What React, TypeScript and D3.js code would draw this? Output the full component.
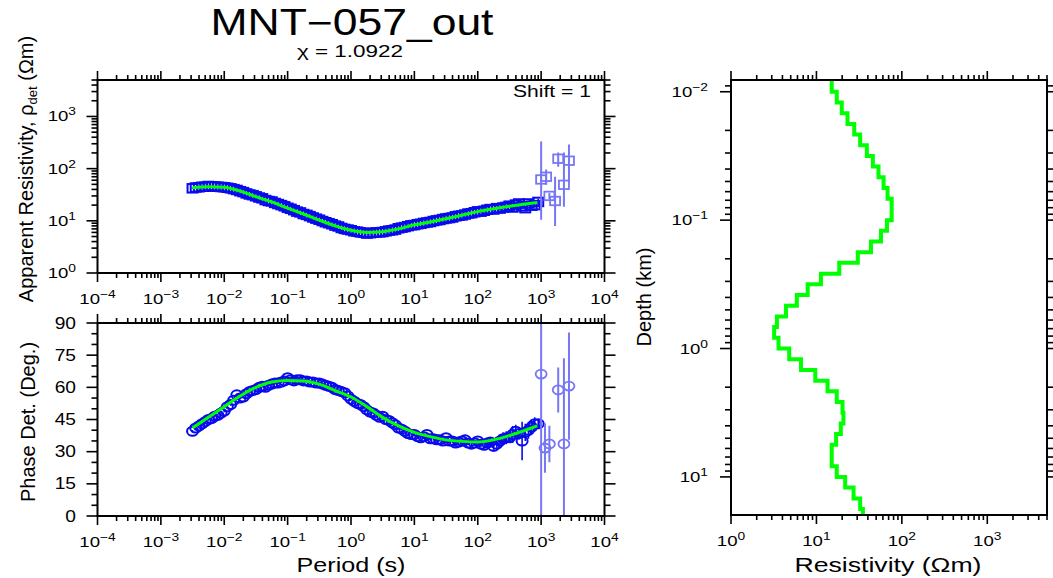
import React from 'react';
import * as d3 from 'd3';

const W = 1053;
const H = 578;
const FONT = "'Liberation Sans', Arial, Helvetica, sans-serif";
const SX = 1.2; // horizontal glyph stretch of the plot lettering

// ---- Observed sounding (period in s) ----
const periods = [
  0.00316, 0.00355, 0.00398, 0.00447, 0.00501, 0.00562, 0.00631, 0.00708, 0.00794, 0.00891,
  0.01, 0.0112, 0.0126, 0.0141, 0.0158, 0.0178, 0.02, 0.0224, 0.0251, 0.0282,
  0.0316, 0.0355, 0.0398, 0.0447, 0.0501, 0.0562, 0.0631, 0.0708, 0.0794, 0.0891,
  0.1, 0.112, 0.126, 0.141, 0.158, 0.178, 0.2, 0.224, 0.251, 0.282,
  0.316, 0.355, 0.398, 0.447, 0.501, 0.562, 0.631, 0.708, 0.794, 0.891,
  1, 1.12, 1.26, 1.41, 1.58, 1.78, 2, 2.24, 2.51, 2.82,
  3.16, 3.55, 3.98, 4.47, 5.01, 5.62, 6.31, 7.08, 7.94, 8.91,
  10, 11.2, 12.6, 14.1, 15.8, 17.8, 20, 22.4, 25.1, 28.2,
  31.6, 35.5, 39.8, 44.7, 50.1, 56.2, 63.1, 70.8, 79.4, 89.1,
  100, 112, 126, 141, 158, 178, 200, 224, 251, 282,
  316, 355, 398, 447, 501, 562, 631, 708, 794, 900];
const rhoObs = [
  42, 43.5, 44, 45, 45, 46.5, 46, 45.5, 45, 44.5,
  44, 43, 42, 40.5, 39, 37, 35.5, 33.5, 32, 31,
  29.5, 28, 27, 25, 24, 23.5, 22, 21, 20, 19,
  17.8, 17, 16, 15, 14.5, 13.5, 13, 12.3, 11.6, 11,
  10.5, 9.9, 9.4, 9.0, 8.6, 8.1, 7.8, 7.3, 7.0, 6.8,
  6.6, 6.3, 6.2, 6.0, 5.9, 5.7, 5.8, 5.9, 6.0, 6.0,
  6.1, 6.3, 6.5, 6.6, 6.8, 7.2, 7.4, 7.6, 7.9, 8.2,
  8.3, 8.6, 8.8, 9.1, 9.3, 9.5, 9.9, 10.2, 10.4, 10.8,
  11.1, 11.3, 11.6, 12.2, 12.5, 12.7, 13.2, 13.8, 14.0, 14.6,
  15.2, 15.0, 15.6, 16.3, 16.8, 16.5, 17.5, 17.2, 18.0, 18.5,
  19.5, 18.0, 20.5, 21.5, 19.0, 17.5, 21.5, 19.5, 20.0, 23];
// relative error of apparent resistivity
const rhoErr = [
  0.02, 0.02, 0.02, 0.02, 0.02, 0.02, 0.02, 0.02, 0.02, 0.02,
  0.02, 0.02, 0.02, 0.02, 0.02, 0.02, 0.02, 0.02, 0.02, 0.02,
  0.02, 0.02, 0.02, 0.02, 0.02, 0.02, 0.02, 0.02, 0.02, 0.02,
  0.02, 0.02, 0.02, 0.02, 0.02, 0.02, 0.02, 0.02, 0.02, 0.02,
  0.02, 0.02, 0.02, 0.02, 0.02, 0.02, 0.02, 0.02, 0.02, 0.02,
  0.02, 0.02, 0.02, 0.02, 0.02, 0.02, 0.02, 0.02, 0.02, 0.02,
  0.02, 0.02, 0.02, 0.02, 0.02, 0.02, 0.02, 0.02, 0.02, 0.02,
  0.02, 0.02, 0.02, 0.02, 0.02, 0.02, 0.02, 0.02, 0.02, 0.02,
  0.03, 0.03, 0.03, 0.03, 0.03, 0.03, 0.03, 0.03, 0.03, 0.03,
  0.04, 0.04, 0.04, 0.05, 0.05, 0.05, 0.05, 0.06, 0.06, 0.06,
  0.06, 0.07, 0.08, 0.09, 0.1, 0.1, 0.12, 0.1, 0.1, 0.15];
const phaseObs = [
  39.5, 41, 42, 43, 44, 45, 45.5, 46.5, 47, 48,
  49, 51, 52, 54, 56.5, 55, 55.5, 57, 58, 58.5,
  59, 60, 60.5, 60, 61, 61.5, 62, 62, 62.5, 63,
  64.5, 63.5, 63, 63.5, 63.5, 63, 63, 62.5, 62.5, 62,
  62, 61.5, 61, 60.5, 60, 59, 58.5, 58, 57.5, 56,
  54.5, 53.5, 52.5, 52, 51, 49.5, 48.5, 48, 47, 46,
  46.5, 45, 44.5, 43.5, 42.5, 41, 40.5, 39.5, 38.5, 38,
  38, 37, 36.5, 37, 38, 36, 36, 35.5, 35.5, 35,
  36.5, 35, 35, 34, 34.5, 35, 35.5, 34, 33.5, 34,
  35, 33.5, 33, 34, 34.5, 32.5, 33.5, 35, 36, 36.5,
  36.5, 38, 39.5, 38.5, 35, 39, 40, 41.5, 43, 43];
const phaseErr = [
  0.6, 0.6, 0.6, 0.6, 0.6, 0.6, 0.6, 0.6, 0.6, 0.6,
  0.6, 0.6, 0.6, 0.6, 0.6, 0.6, 0.6, 0.6, 0.6, 0.6,
  0.6, 0.6, 0.6, 0.6, 0.6, 0.6, 0.6, 0.6, 0.6, 0.6,
  0.6, 0.6, 0.6, 0.6, 0.6, 0.6, 0.6, 0.6, 0.6, 0.6,
  0.6, 0.6, 0.6, 0.6, 0.6, 0.6, 0.6, 0.6, 0.6, 0.6,
  0.6, 0.6, 0.6, 0.6, 0.6, 0.6, 0.6, 0.6, 0.6, 0.6,
  0.6, 0.6, 0.6, 0.6, 0.6, 0.6, 0.6, 0.6, 0.6, 0.6,
  0.8, 0.8, 0.8, 0.8, 0.8, 0.8, 0.8, 0.8, 0.8, 0.8,
  0.8, 0.8, 0.8, 1, 1, 1, 1, 1, 1, 1.2,
  1.2, 1.5, 1.5, 2, 2, 2.5, 2.5, 3, 3, 3,
  2.5, 4, 3, 3, 9, 4, 4, 3, 3, 2];

// ---- Long-period points with large uncertainty ----
const lpRhoPeriods = [1000, 1200, 1350, 1660, 1860, 2290, 2750];
const lpRho = [62, 70, 30, 24, 155, 49, 142];
const lpRhoLo = [10.5, 49, 26, 8, 109, 18.6, 54];
const lpRhoHi = [330, 96, 34, 70, 204, 204, 290];
const lpPhasePeriods = [1000, 1150, 1350, 1860, 2290, 2750];
const lpPhase = [66.2, 31.7, 33.6, 58.8, 33.6, 60.6];
const lpPhaseErr = [70, 11.5, 8.5, 10.5, 40, 25];

// ---- Model response ----
const respPeriods = [0.00316, 0.00562, 0.01, 0.0178, 0.0316, 0.0562, 0.1, 0.178, 0.316, 0.562,
  1, 1.78, 3.16, 5.62, 10, 17.8, 31.6, 56.2, 100, 178, 316, 562, 870];
const respRho = [43, 45, 44, 37, 29, 23, 17.5, 13.5, 10.3, 8.0,
  6.6, 6.0, 6.2, 7.0, 8.4, 9.5, 11.0, 12.8, 15.0, 17.0, 19.0, 21.0, 22.5];
const respPhase = [41, 46, 51, 56, 60, 62.5, 63.2, 63, 61.5, 58.5,
  55.5, 51, 46, 42, 39, 37, 35.5, 34.8, 34.5, 35.5, 37.5, 40, 42];

// ---- 1-D layered model: interface depths (km) and layer resistivities (ohm-m) ----
const interfaceDepths = [0.01, 0.0121, 0.0147, 0.0178, 0.0215, 0.0261, 0.0316, 0.0383, 0.0464, 0.0562,
  0.0681, 0.0825, 0.1, 0.121, 0.147, 0.178, 0.215, 0.261, 0.316, 0.383,
  0.464, 0.562, 0.681, 0.825, 1.0, 1.21, 1.47, 1.78, 2.15, 2.61,
  3.16, 3.83, 4.64, 5.62, 6.81, 8.25, 10.0, 12.1, 14.7, 17.8];
const layerRes = [15.1, 17.3, 19.8, 23.1, 27.7, 32.5, 38.9, 45.8, 53.3, 61.1,
  68, 76, 76, 67, 57, 43.5, 30.5, 18.5, 11.3, 7.9,
  5.9, 4.4, 3.45, 3.2, 3.6, 4.8, 6.6, 9.7, 13.5, 17.3,
  20.2, 20.7, 19.3, 17, 15.1, 15.1, 17.3, 21.7, 27.2, 32.5, 35];

// ---- Axis labels ----
const periodExps = [-4, -3, -2, -1, 0, 1, 2, 3, 4];
const rhoExps = [0, 1, 2, 3];
const phaseLabels = [0, 15, 30, 45, 60, 75, 90];
const depthExps = [-2, -1, 0, 1];
const resExps = [0, 1, 2, 3];

// ---- Layout ----
const L = { x0: 97.5, x1: 604.5 };
const TOP = { y0: 80, y1: 273 };
const BOT = { y0: 323, y1: 516 };
const R = { x0: 731, x1: 1047, y0: 80, y1: 515 };

const xP = d3.scaleLog().domain([1e-4, 1e4]).range([L.x0, L.x1]);
const yRho = d3.scaleLog().domain([1, 5000]).range([TOP.y1, TOP.y0]);
const yPh = d3.scaleLinear().domain([0, 90]).range([BOT.y1, BOT.y0]);
const xRes = d3.scaleLog().domain([1, 5000]).range([R.x0, R.x1]);
const yDep = d3.scaleLog().domain([0.0081, 19.8]).range([R.y0, R.y1]);

function logTicks(lo: number, hi: number) {
  const out: { v: number; major: boolean }[] = [];
  for (let k = Math.floor(Math.log10(lo)); k <= Math.ceil(Math.log10(hi)); k++) {
    for (let m = 1; m <= 9; m++) {
      const v = m * Math.pow(10, k);
      if (v >= lo * 0.9999 && v <= hi * 1.0001) out.push({ v, major: m === 1 });
    }
  }
  return out;
}

const BLUE = '#0a0aee';
const LIGHT = '#7777f6';
const GREEN = '#00ff00';

type Tk = { p: number; major: boolean };

function Frame({ x0, x1, y0, y1, xt, yt }: { x0: number; x1: number; y0: number; y1: number; xt: Tk[]; yt: Tk[] }) {
  const vMaj = 9, vMin = 5, hMaj = 11, hMin = 6;
  return (
    <g stroke="#000" fill="none">
      {xt.map((t, i) => (
        <g key={'x' + i} strokeWidth={1.6}>
          <line x1={t.p} x2={t.p} y1={y1} y2={y1 + (t.major ? vMaj : vMin)} />
          <line x1={t.p} x2={t.p} y1={y0} y2={y0 - (t.major ? vMaj : vMin)} />
        </g>
      ))}
      {yt.map((t, i) => (
        <g key={'y' + i} strokeWidth={1.6}>
          <line y1={t.p} y2={t.p} x1={x0} x2={x0 - (t.major ? hMaj : hMin)} />
          <line y1={t.p} y2={t.p} x1={x1} x2={x1 + (t.major ? hMaj : hMin)} />
        </g>
      ))}
      <rect x={x0} y={y0} width={x1 - x0} height={y1 - y0} strokeWidth={2} />
    </g>
  );
}

function Pow({ x, y, exp, anchor }: { x: number; y: number; exp: number; anchor: string }) {
  const e = exp < 0 ? `\u2212${-exp}` : `${exp}`;
  return (
    <text transform={`translate(${x},${y}) scale(${SX},1)`} textAnchor={anchor} fontSize={15.5} fontFamily={FONT} fill="#000">
      10<tspan dy={-6} fontSize={11.5}>{e}</tspan>
    </text>
  );
}

export default function App() {
  const xtP = logTicks(1e-4, 1e4).map((t) => ({ p: xP(t.v), major: t.major }));
  const ytRho = logTicks(1, 5000).map((t) => ({ p: yRho(t.v), major: t.major }));
  const ytPh = d3.range(0, 91, 5).map((v) => ({ p: yPh(v), major: v % 15 === 0 }));
  const xtRes = logTicks(1, 5000).map((t) => ({ p: xRes(t.v), major: t.major }));
  const ytDep = logTicks(0.0081, 19.8).map((t) => ({ p: yDep(t.v), major: t.major }));

  const rhoLine = d3.line<number>().x((_, i) => xP(respPeriods[i])).y((v) => yRho(v)).curve(d3.curveMonotoneX)(respRho) || '';
  const phLine = d3.line<number>().x((_, i) => xP(respPeriods[i])).y((v) => yPh(v)).curve(d3.curveMonotoneX)(respPhase) || '';

  let model = `M${xRes(layerRes[0])},${R.y0}`;
  interfaceDepths.forEach((z, i) => {
    model += `V${yDep(z)}H${xRes(layerRes[i + 1])}`;
  });
  model += `V${R.y1}`;

  return (
    <svg width={W} height={H} style={{ position: 'absolute', left: 0, top: 0, background: '#fff' }} fontFamily={FONT}>
      <defs>
        <clipPath id="cRho"><rect x={L.x0} y={TOP.y0} width={L.x1 - L.x0} height={TOP.y1 - TOP.y0} /></clipPath>
        <clipPath id="cPh"><rect x={L.x0} y={BOT.y0} width={L.x1 - L.x0} height={BOT.y1 - BOT.y0} /></clipPath>
        <clipPath id="cMod"><rect x={R.x0} y={R.y0} width={R.x1 - R.x0} height={R.y1 - R.y0} /></clipPath>
      </defs>
      <rect x={0} y={0} width={W} height={H} fill="#fff" />

      {/* Title */}
      <text x={352} y={35} textAnchor="middle" fontSize={36} textLength={283} lengthAdjust="spacingAndGlyphs">MNT{'\u2212'}057_out</text>
      <text x={350} y={57} textAnchor="middle" fontSize={16} textLength={106} lengthAdjust="spacingAndGlyphs">{'\u03c7'} = 1.0922</text>

      {/* Apparent resistivity panel */}
      <g clipPath="url(#cRho)">
        {periods.map((p, i) => (
          <line key={'re' + i} x1={xP(p)} x2={xP(p)} y1={yRho(rhoObs[i] * (1 - rhoErr[i]))} y2={yRho(rhoObs[i] * (1 + rhoErr[i]))} stroke={BLUE} strokeWidth={1.6} />
        ))}
        {periods.map((p, i) => (
          <rect key={'rs' + i} x={xP(p) - 5} y={yRho(rhoObs[i]) - 4.25} width={10} height={8.5} fill="none" stroke={BLUE} strokeWidth={2} />
        ))}
        {lpRhoPeriods.map((p, i) => (
          <line key={'le' + i} x1={xP(p)} x2={xP(p)} y1={yRho(lpRhoLo[i])} y2={yRho(lpRhoHi[i])} stroke={LIGHT} strokeWidth={2} />
        ))}
        {lpRhoPeriods.map((p, i) => (
          <rect key={'ls' + i} x={xP(p) - 5} y={yRho(lpRho[i]) - 4.25} width={10} height={8.5} fill="none" stroke={LIGHT} strokeWidth={1.8} />
        ))}
        <path d={rhoLine} fill="none" stroke={GREEN} strokeWidth={3} />
      </g>
      <Frame x0={L.x0} x1={L.x1} y0={TOP.y0} y1={TOP.y1} xt={xtP} yt={ytRho} />
      <text x={591} y={97} textAnchor="end" fontSize={16} textLength={78} lengthAdjust="spacingAndGlyphs">Shift = 1</text>
      {periodExps.map((e) => <Pow key={'tx' + e} x={xP(Math.pow(10, e))} y={TOP.y1 + 31} exp={e} anchor="middle" />)}
      {rhoExps.map((e) => <Pow key={'ty' + e} x={76} y={yRho(Math.pow(10, e)) + 5} exp={e} anchor="end" />)}
      <text transform={`translate(33,169) rotate(-90)`} textAnchor="middle" fontSize={20}>
        Apparent Resistivity, {'\u03c1'}<tspan dy={4} fontSize={13}>det</tspan><tspan dy={-4}> ({'\u03a9'}m)</tspan>
      </text>

      {/* Phase panel */}
      <g clipPath="url(#cPh)">
        {periods.map((p, i) => (
          <line key={'pe' + i} x1={xP(p)} x2={xP(p)} y1={yPh(phaseObs[i] - phaseErr[i])} y2={yPh(phaseObs[i] + phaseErr[i])} stroke={BLUE} strokeWidth={1.6} />
        ))}
        {periods.map((p, i) => (
          <ellipse key={'pc' + i} cx={xP(p)} cy={yPh(phaseObs[i])} rx={5.5} ry={4.5} fill="none" stroke={BLUE} strokeWidth={2} />
        ))}
        {lpPhasePeriods.map((p, i) => (
          <line key={'lpe' + i} x1={xP(p)} x2={xP(p)} y1={yPh(lpPhase[i] - lpPhaseErr[i])} y2={yPh(lpPhase[i] + lpPhaseErr[i])} stroke={LIGHT} strokeWidth={2} />
        ))}
        {lpPhasePeriods.map((p, i) => (
          <ellipse key={'lpc' + i} cx={xP(p)} cy={yPh(lpPhase[i])} rx={5.5} ry={4.5} fill="none" stroke={LIGHT} strokeWidth={1.8} />
        ))}
        <path d={phLine} fill="none" stroke={GREEN} strokeWidth={3} />
      </g>
      <Frame x0={L.x0} x1={L.x1} y0={BOT.y0} y1={BOT.y1} xt={xtP} yt={ytPh} />
      {periodExps.map((e) => <Pow key={'bx' + e} x={xP(Math.pow(10, e))} y={BOT.y1 + 31} exp={e} anchor="middle" />)}
      {phaseLabels.map((v) => (
        <text key={'ph' + v} transform={`translate(76,${yPh(v) + 5.5}) scale(${SX},1)`} textAnchor="end" fontSize={16}>{v}</text>
      ))}
      <text transform={`translate(35,422) rotate(-90)`} textAnchor="middle" fontSize={20}>Phase Det. (Deg.)</text>
      <text x={351} y={572} textAnchor="middle" fontSize={20} textLength={109} lengthAdjust="spacingAndGlyphs">Period (s)</text>

      {/* Layered model panel */}
      <g clipPath="url(#cMod)">
        <path d={model} fill="none" stroke={GREEN} strokeWidth={4} strokeLinejoin="miter" />
      </g>
      <Frame x0={R.x0} x1={R.x1} y0={R.y0} y1={R.y1} xt={xtRes} yt={ytDep} />
      {resExps.map((e) => <Pow key={'rx' + e} x={xRes(Math.pow(10, e))} y={R.y1 + 31} exp={e} anchor="middle" />)}
      {depthExps.map((e) => <Pow key={'ry' + e} x={708} y={yDep(Math.pow(10, e)) + 5} exp={e} anchor="end" />)}
      <text transform={`translate(651,297) rotate(-90)`} textAnchor="middle" fontSize={20}>Depth (km)</text>
      <text x={888} y={572} textAnchor="middle" fontSize={20} textLength={187} lengthAdjust="spacingAndGlyphs">Resistivity ({'\u03a9'}m)</text>
    </svg>
  );
}
